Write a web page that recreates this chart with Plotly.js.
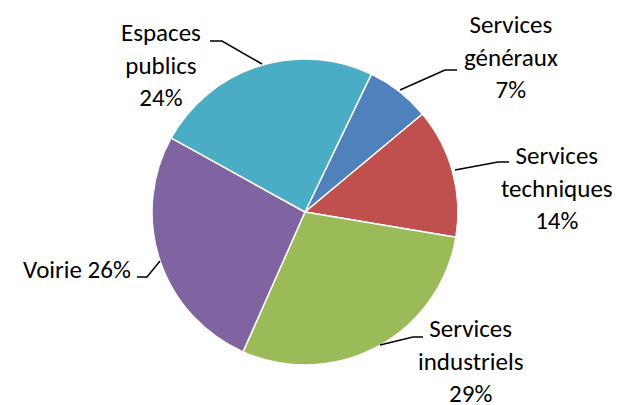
<!DOCTYPE html>
<html>
<head>
<meta charset="utf-8">
<script src="https://cdn.plot.ly/plotly-3.0.1.min.js"></script>
<style>html,body{margin:0;padding:0;background:#fff;}#chart{width:619px;height:405px;}</style>
</head>
<body>
<div id="chart"></div>
<script>
const categories = ['Services généraux', 'Services techniques', 'Services industriels', 'Voirie', 'Espaces publics'];
const labelText = ['Services<br>généraux', 'Services<br>techniques', 'Services<br>industriels', 'Voirie', 'Espaces<br>publics'];
const values = [6.8, 13.7, 29.0, 26.4, 24.1];
const colors = ['#4F81BD', '#C0504D', '#9BBB59', '#8064A2', '#4BACC6'];

const total = values.reduce((a, b) => a + b, 0);
const pct = values.map(v => Math.round(v / total * 100) + '%');

// label placement (pixel coordinates of hidden overlay axes)
const labelPos = [
  {x: 511, y: 57, xa: 'center'},
  {x: 557, y: 188, xa: 'center'},
  {x: 470, y: 361, xa: 'center'},
  {x: 132, y: 269, xa: 'right'},
  {x: 161, y: 65, xa: 'center'}
];
const leaders = [
  [[400, 90], [445, 70], [457, 70]],
  [[455, 170], [498, 162], [509, 162]],
  [[380, 345], [413, 337], [423, 337]],
  [[160, 261], [147, 277], [137, 277]],
  [[262, 64], [222, 41], [210, 41]]
];

const font = {family: 'Carlito, Lato, "Open Sans", sans-serif', size: 25, color: '#000'};

const annotations = categories.map((c, i) => ({
  xref: 'x', yref: 'y',
  x: labelPos[i].x, y: labelPos[i].y,
  xanchor: labelPos[i].xa, yanchor: 'middle', align: 'center',
  showarrow: false, borderpad: 0,
  text: labelText[i] + (labelText[i].indexOf('<br>') >= 0 ? '<br>' : ' ') + pct[i],
  font: font
}));

const shapes = leaders.map(pts => ({
  type: 'path', xref: 'x', yref: 'y',
  path: 'M' + pts.map(p => p[0] + ',' + p[1]).join(' L'),
  line: {color: '#000', width: 1.5}
}));

const data = [{
  type: 'pie',
  labels: categories,
  values: values,
  sort: false,
  direction: 'clockwise',
  rotation: 25.7,
  textinfo: 'none',
  hoverinfo: 'label+percent',
  marker: {colors: colors, line: {color: '#fff', width: 1.5}},
  domain: {x: [(305 - 153) / 619, (305 + 153) / 619], y: [(405 - 365) / 405, (405 - 59) / 405]},
  showlegend: false
}];

const layout = {
  width: 619, height: 405,
  margin: {l: 0, r: 0, t: 0, b: 0},
  paper_bgcolor: '#fff', plot_bgcolor: 'rgba(0,0,0,0)',
  showlegend: false,
  xaxis: {range: [0, 619], visible: false, fixedrange: true},
  yaxis: {range: [405, 0], visible: false, fixedrange: true},
  annotations: annotations,
  shapes: shapes
};

Plotly.newPlot('chart', data, layout, {displayModeBar: false, staticPlot: true});
</script>
</body>
</html>
